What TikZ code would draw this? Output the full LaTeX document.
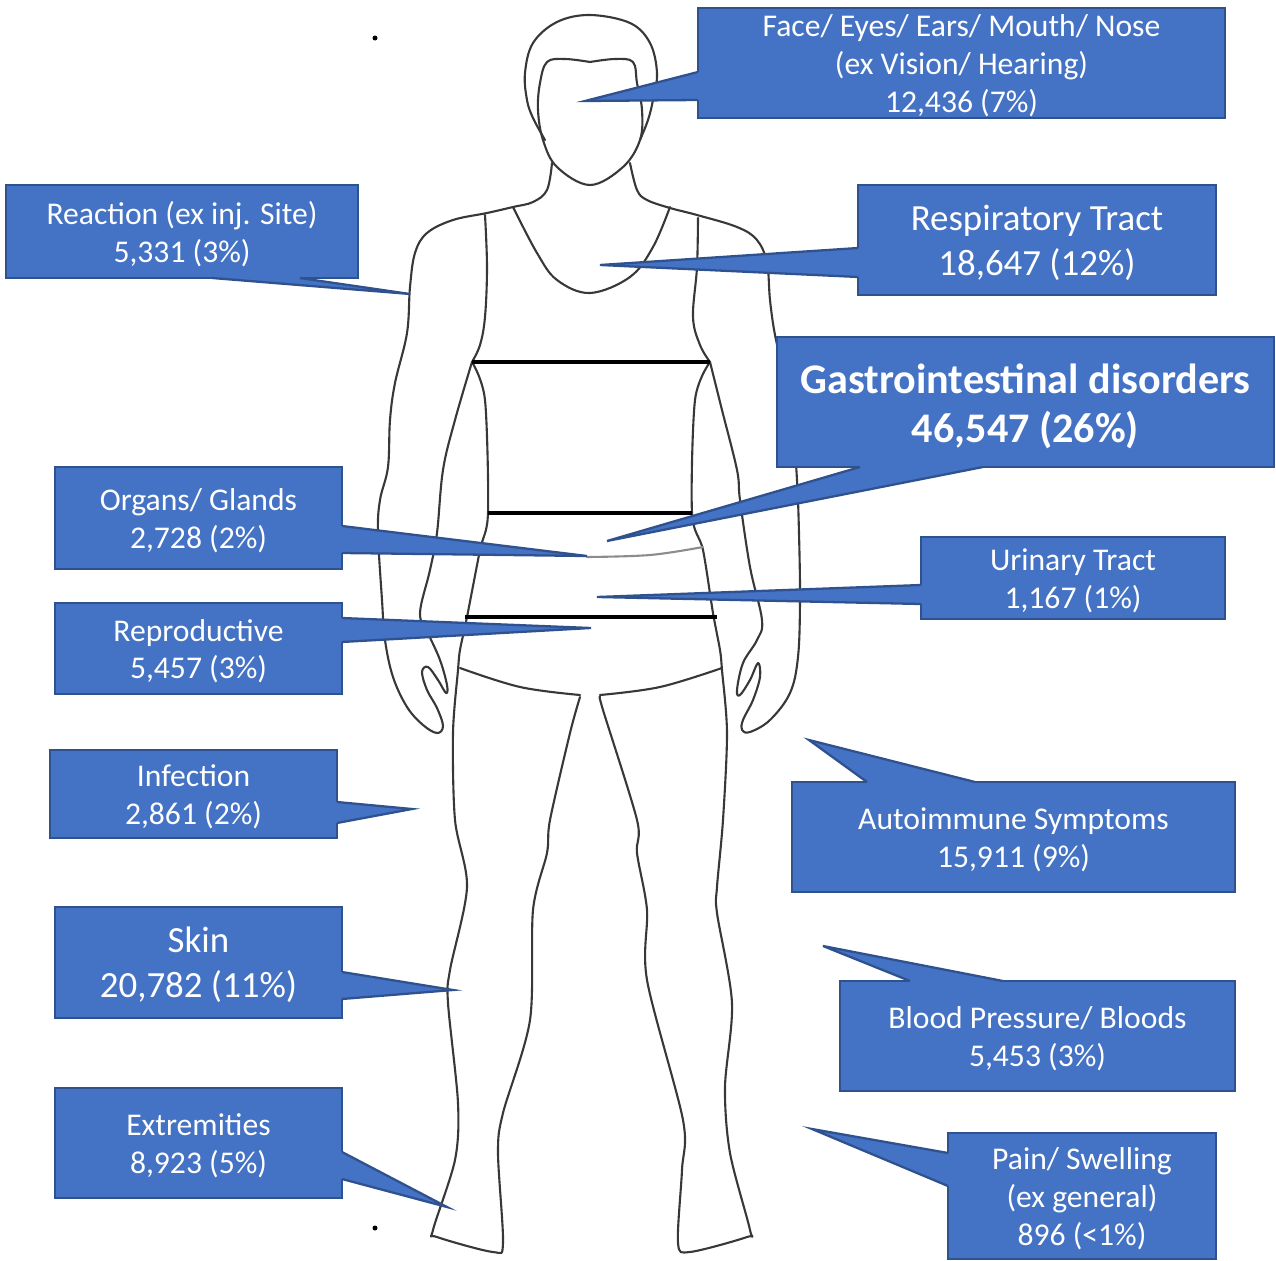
\documentclass[tikz,border=0pt]{standalone}
\usepackage{fontspec}
\setmainfont{Carlito}
\usepackage{tikz}
\usetikzlibrary{calc,fit}
\definecolor{callfill}{RGB}{68,114,196}
\definecolor{calledge}{RGB}{47,82,143}
\tikzset{
  body/.style={line width=1.2pt,color=black!78,line cap=round,line join=round},
  band/.style={line width=2.3pt,color=black},
  callbox/.style={fill=callfill,draw=calledge,line width=1.3pt,inner sep=0pt},
  calltext/.style={inner sep=0pt,yshift=-1.5pt,text=white,align=center,font=\fontsize{18}{21.5}\selectfont},
  callbig/.style={calltext,font=\fontsize{21}{25.5}\selectfont},
  callhuge/.style={calltext,yshift=-1pt,font=\bfseries\fontsize{24}{28.4}\selectfont},
  calledge/.style={draw=calledge,line width=1.3pt,line join=miter}
}
\newcommand{\calltip}[4]{%
  \fill[callfill] ($(#1)+(#4)$) -- (#1) -- (#3) -- (#2) -- ($(#2)+(#4)$) -- cycle;
  \draw[calledge] (#1) -- (#3) -- (#2);
}
\begin{document}
\begin{tikzpicture}[x=0.02cm,y=-0.02cm]
	\useasboundingbox (0,0) rectangle (1276,1261);
	\draw[body] plot[smooth,tension=.6] coordinates {(545,140) (533,118) (527,100) (525,73) (533,43) (557,22) (590,15) (630,23) (650,43) (657,73) (653,100) (648,120) (640,140)};
	\draw[body] plot[smooth,tension=.6] coordinates {(590,62) (615,59) (633,62) (637,83) (642,110) (640,140) (623,167) (590,185) (557,167) (543,140) (538,110) (540,83) (547,62) (565,59) (590,62)};
	\draw[body] plot[smooth,tension=.6] coordinates {(552,163) (547,190) (533,202) (513,207) (487,213) (453,220) (427,233) (415,253) (410,287) (407,333) (395,383) (390,420) (388,467) (380,500) (378,533) (382,600) (385,640) (393,677) (407,707) (423,725) (437,733) (443,726) (437,708) (427,690) (422,672) (428,667) (438,680) (446,693) (447,685) (440,660) (428,633) (420,613) (430,570) (437,533) (443,470) (455,420) (472,362)};
	\draw[body] plot[smooth,tension=.6] coordinates {(630,163) (637,190) (647,200) (670,208) (697,215) (737,227) (757,240) (767,263) (770,300) (775,335) (785,380) (793,430) (797,480) (799,533) (800,600) (798,657) (790,693) (770,720) (750,732) (742,730) (743,720) (753,700) (760,677) (758,663) (750,680) (740,695) (737,690) (743,663) (757,640) (762,620) (750,567) (740,500) (737,470) (722,410) (710,362)};
	\draw[body] plot[smooth,tension=.6] coordinates {(485,215) (487,267) (485,317) (480,345) (472,362)};
	\draw[body] plot[smooth,tension=.6] coordinates {(698,218) (697,267) (693,317) (700,345) (710,362)};
	\draw[body] plot[smooth,tension=.6] coordinates {(513,207) (537,253) (557,280) (590,293) (630,277) (653,247) (670,207)};
	\draw[body] plot[smooth,tension=.5] coordinates {(472,362) (485,400) (488,513) (480,550) (467,617) (460,650) (458,670) (453,733) (455,820) (467,887) (450,970) (448,1003) (458,1103) (455,1160) (433,1230) (437,1237) (493,1252) (503,1243) (498,1153) (503,1113) (530,1020) (533,910) (547,853) (550,820) (570,733) (580,697)};
	\draw[body] plot[smooth,tension=.5] coordinates {(710,362) (695,400) (692,513) (703,550) (713,613) (720,650) (722,670) (727,733) (723,820) (717,887) (717,913) (732,1003) (725,1087) (730,1153) (750,1230) (747,1237) (690,1252) (678,1243) (682,1170) (683,1120) (647,980) (647,910) (637,853) (637,820) (603,710) (600,697)};
	\draw[body] plot[smooth,tension=.6] coordinates {(460,668) (520,687) (580,695)};
	\draw[body] plot[smooth,tension=.6] coordinates {(600,695) (660,687) (722,668)};
	\draw[body,color=black!45] plot[smooth,tension=.6] coordinates {(587,557) (650,555) (703,547)};
	\foreach \ya/\xa/\xb in {362/472/710,513/488/692,617/465/717}
	\draw[band] (\xa,\ya) -- (\xb,\ya);
	\fill (375,38) circle (2.5);
	\fill (375,1228) circle (2.5);

	\node[callbox,fit={(698,8) (1225,118)}] (face) {};
	\coordinate (face tip) at (585,101);
	\calltip{698,72}{698,100}{face tip}{3,0}
	\node[calltext] (face text) at (face.center) {Face/ Eyes/ Ears/ Mouth/ Nose\\(ex Vision/ Hearing)\\12,436 (7\%)};
	\node[callbox,fit={(6,185) (358,278)}] (reaction) {};
	\coordinate (reaction tip) at (410,294);
	\calltip{212,278}{300,278}{reaction tip}{0,-3}
	\node[calltext] (reaction text) at (reaction.center) {Reaction (ex inj. Site)\\5,331 (3\%)};
	\node[callbox,fit={(858,185) (1216,295)}] (resp) {};
	\coordinate (resp tip) at (600,265);
	\calltip{858,248}{858,277}{resp tip}{3,0}
	\node[callbig] (resp text) at (resp.center) {Respiratory Tract\\18,647 (12\%)};
	\node[callbox,fit={(777,337) (1274,467)}] (gastro) {};
	\coordinate (gastro tip) at (607,541);
	\calltip{860,467}{983,467}{gastro tip}{0,-3}
	\node[callhuge] (gastro text) at (gastro.center) {Gastrointestinal disorders\\46,547 (26\%)};
	\node[callbox,fit={(55,467) (342,569)}] (organs) {};
	\coordinate (organs tip) at (587,556);
	\calltip{342,526}{342,553}{organs tip}{-3,0}
	\node[calltext] (organs text) at (organs.center) {Organs/ Glands\\2,728 (2\%)};
	\node[callbox,fit={(921,537) (1225,619)}] (urinary) {};
	\coordinate (urinary tip) at (597,597);
	\calltip{921,585}{921,604}{urinary tip}{3,0}
	\node[calltext] (urinary text) at (urinary.center) {Urinary Tract\\1,167 (1\%)};
	\node[callbox,fit={(55,603) (342,694)}] (repro) {};
	\coordinate (repro tip) at (591,628);
	\calltip{342,618}{342,642}{repro tip}{-3,0}
	\node[calltext] (repro text) at (repro.center) {Reproductive\\5,457 (3\%)};
	\node[callbox,fit={(50,750) (337,838)}] (infection) {};
	\coordinate (infection tip) at (412,809);
	\calltip{337,802}{337,823}{infection tip}{-3,0}
	\node[calltext] (infection text) at (infection.center) {Infection\\2,861 (2\%)};
	\node[callbox,fit={(792,782) (1235,892)}] (autoimmune) {};
	\coordinate (autoimmune tip) at (809,740);
	\calltip{867,782}{975,782}{autoimmune tip}{0,3}
	\node[calltext] (autoimmune text) at (autoimmune.center) {Autoimmune Symptoms\\15,911 (9\%)};
	\node[callbox,fit={(55,907) (342,1018)}] (skin) {};
	\coordinate (skin tip) at (453,990);
	\calltip{342,972}{342,999}{skin tip}{-3,0}
	\node[callbig] (skin text) at (skin.center) {Skin\\20,782 (11\%)};
	\node[callbox,fit={(840,981) (1235,1091)}] (blood) {};
	\coordinate (blood tip) at (823,946);
	\calltip{910,981}{1003,981}{blood tip}{0,3}
	\node[calltext] (blood text) at (blood.center) {Blood Pressure/ Bloods\\5,453 (3\%)};
	\node[callbox,fit={(55,1088) (342,1198)}] (extremities) {};
	\coordinate (extremities tip) at (447,1207);
	\calltip{342,1152}{342,1179}{extremities tip}{-3,0}
	\node[calltext] (extremities text) at (extremities.center) {Extremities\\8,923 (5\%)};
	\node[callbox,fit={(948,1133) (1216,1259)}] (pain) {};
	\coordinate (pain tip) at (812,1129);
	\calltip{948,1153}{948,1186}{pain tip}{3,0}
	\node[calltext] (pain text) at (pain.center) {Pain/ Swelling\\(ex general)\\896 (<1\%)};
\end{tikzpicture}
\end{document}
